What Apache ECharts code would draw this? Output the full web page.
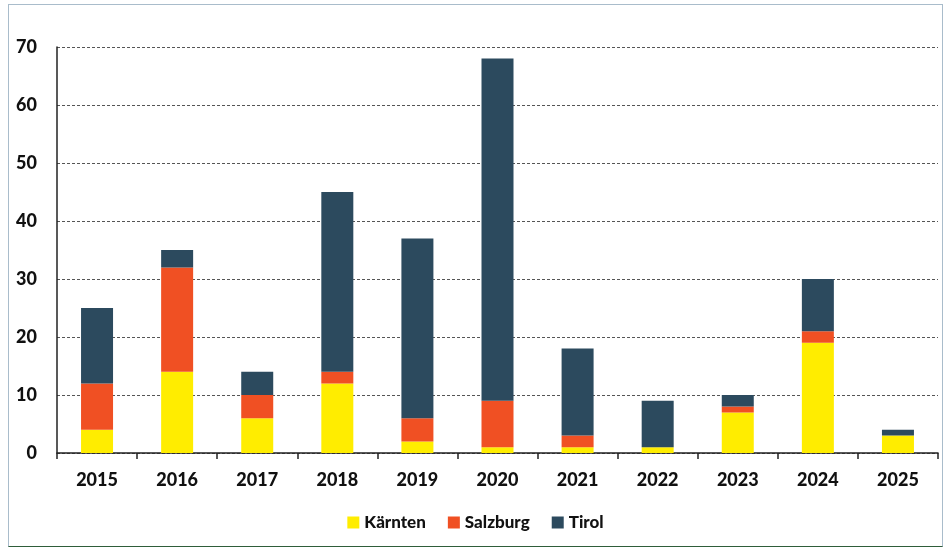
<!DOCTYPE html>
<html><head><meta charset="utf-8">
<script src="https://cdn.jsdelivr.net/npm/echarts@6/dist/echarts.min.js"></script>
<style>
html,body{margin:0;padding:0;background:#fff;}
#frame{position:absolute;left:8px;top:4px;width:933px;height:541px;border:1.5px solid #A9BCCB;border-bottom:1.5px solid #2F5D3A;}
#c{position:absolute;left:0;top:0;width:951px;height:548px;}
</style></head>
<body>
<div id="frame"></div>
<div id="c"></div>
<script>
const categories = ['2015','2016','2017','2018','2019','2020','2021','2022','2023','2024','2025'];
const kaernten = [4, 14, 6, 12, 2, 1, 1, 1, 7, 19, 3];
const salzburg = [8, 18, 4, 2, 4, 8, 2, 0, 1, 2, 0];
const tirol    = [13, 3, 4, 31, 31, 59, 15, 8, 2, 9, 1];
const yTicks = [0, 10, 20, 30, 40, 50, 60, 70];

const chart = echarts.init(document.getElementById('c'));
const font = 'Lato, "Open Sans", sans-serif';
chart.setOption({
  animation: false,
  grid: {left: 57, right: 13, top: 47, bottom: 95, containLabel: false},
  legend: {
    bottom: 12, left: 'center', itemWidth: 12, itemHeight: 12, itemGap: 22,
    icon: 'rect',
    textStyle: {fontFamily: font, fontWeight: 900, fontSize: 17, color: '#111'},
    data: ['Kärnten', 'Salzburg', 'Tirol']
  },
  xAxis: {
    type: 'category', data: categories,
    axisLine: {lineStyle: {color: '#222', width: 1.5}},
    axisTick: {show: true, length: 6, lineStyle: {color: '#222', width: 1.5}},
    axisLabel: {fontFamily: font, fontWeight: 900, fontSize: 18, color: '#111', margin: 18}
  },
  yAxis: {
    type: 'value', min: yTicks[0], max: yTicks[yTicks.length - 1], interval: 10,
    axisLine: {show: true, lineStyle: {color: '#222', width: 1.5}},
    axisTick: {show: false},
    axisLabel: {fontFamily: font, fontWeight: 900, fontSize: 18, color: '#111', margin: 20},
    splitLine: {lineStyle: {color: '#555', type: [3, 2], width: 1}}
  },
  series: [
    {name: 'Kärnten', type: 'bar', stack: 's', data: kaernten, barWidth: 32, itemStyle: {color: '#FFED00'}},
    {name: 'Salzburg', type: 'bar', stack: 's', data: salzburg, itemStyle: {color: '#F05023'}},
    {name: 'Tirol', type: 'bar', stack: 's', data: tirol, itemStyle: {color: '#2C4A5E'}}
  ]
});
</script>
</body></html>
